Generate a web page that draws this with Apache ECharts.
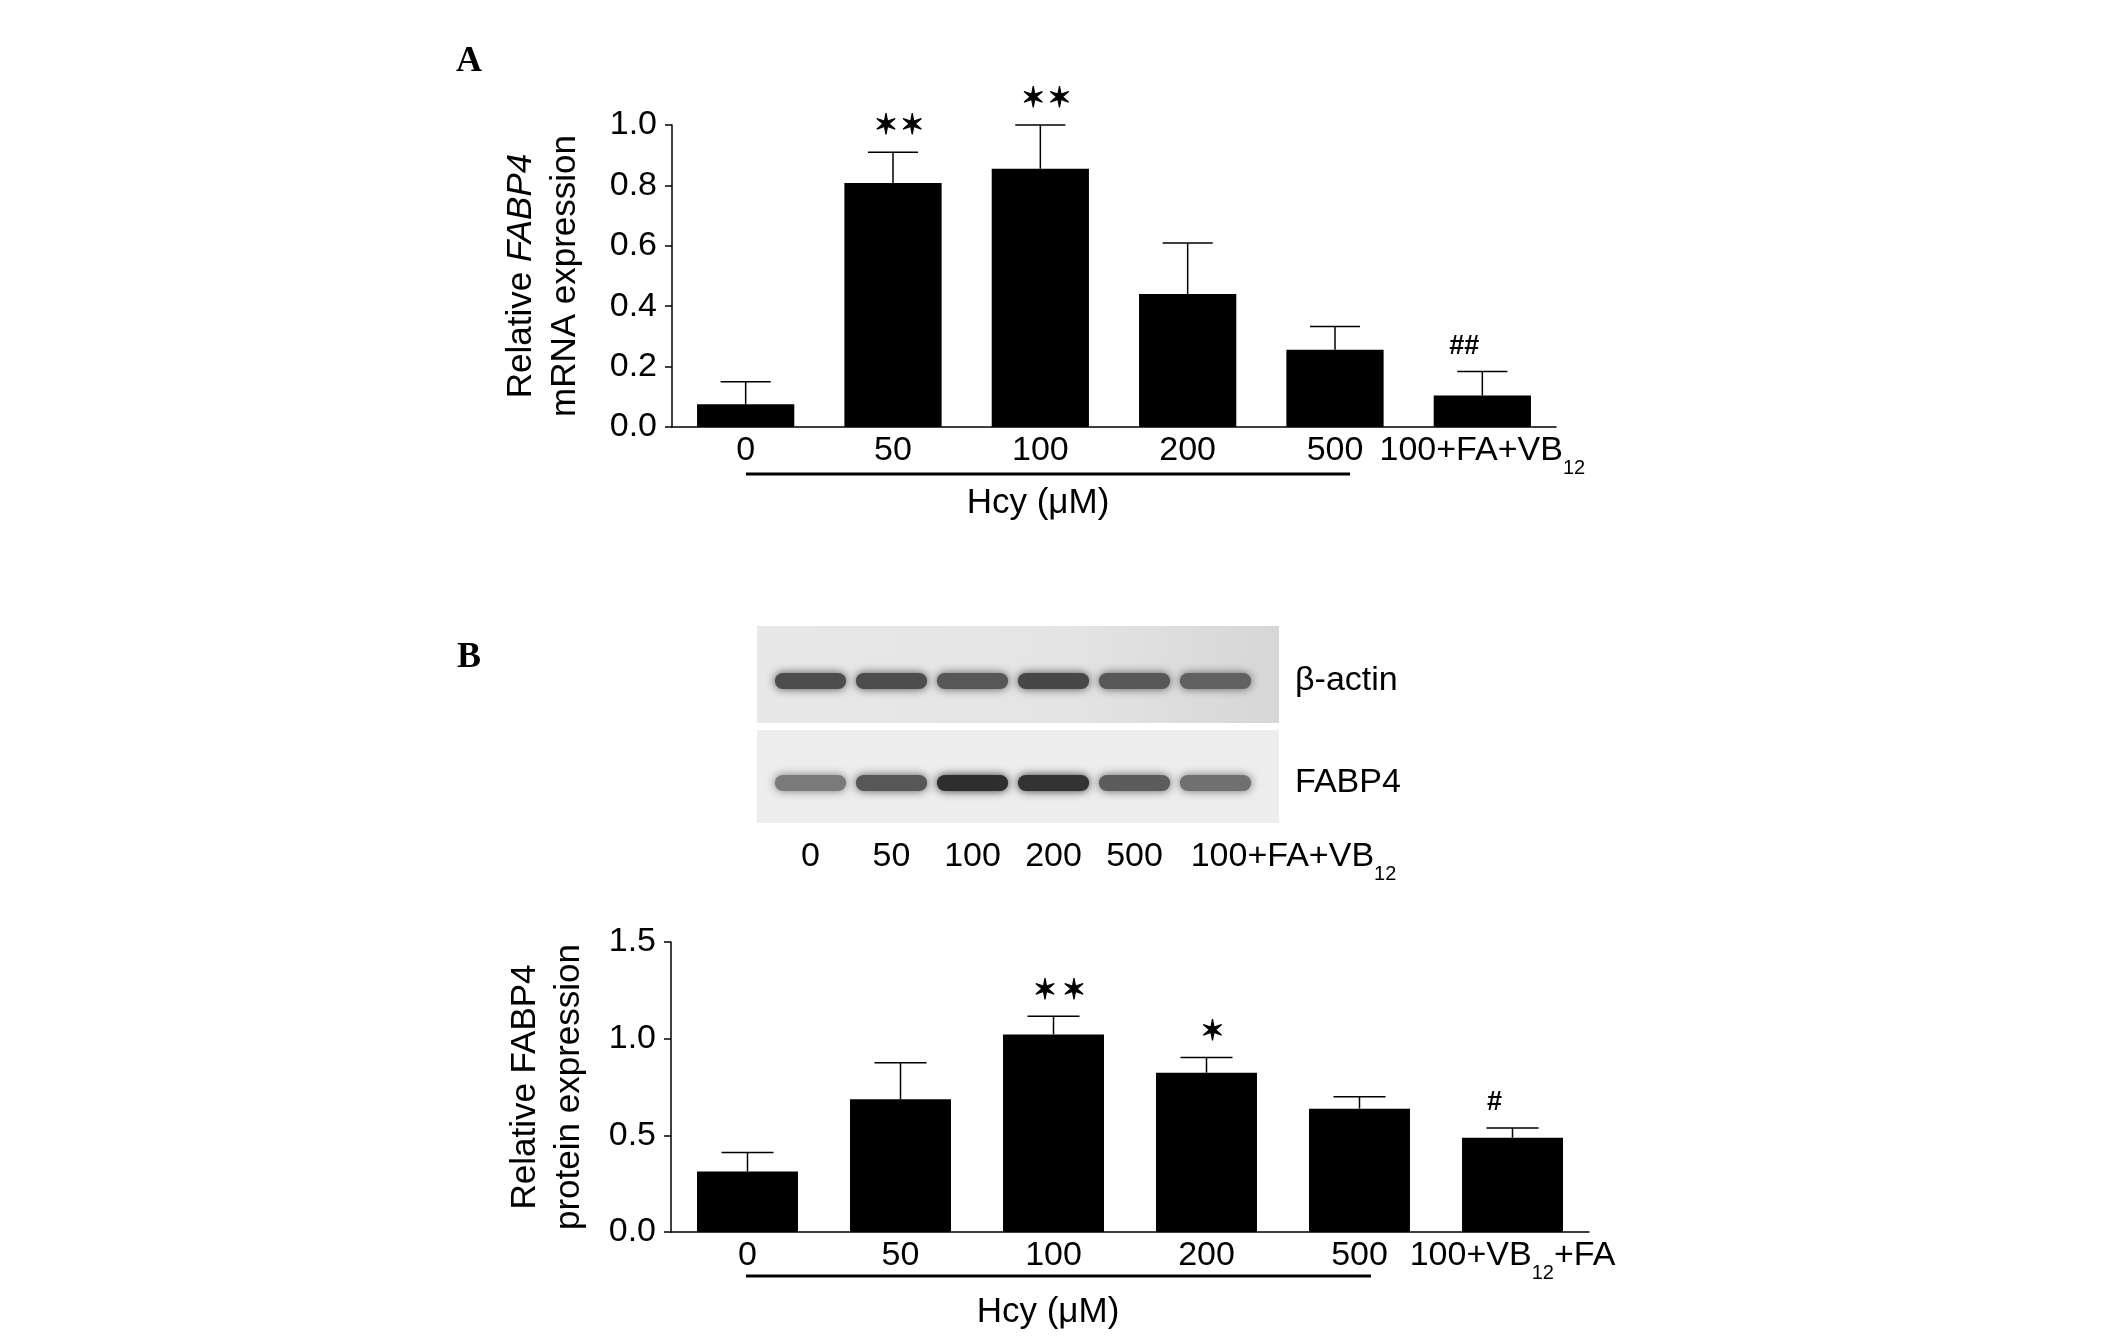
<!DOCTYPE html>
<html>
<head>
<meta charset="utf-8">
<script src="https://cdn.jsdelivr.net/npm/echarts@6/dist/echarts.min.js"></script>
<style>
  html, body { margin: 0; padding: 0; background: #fff; }
  #chart { width: 2126px; height: 1342px; }
</style>
</head>
<body>
<div id="chart"></div>
<script>
// A: relative FABP4 mRNA expression
const mrnaGroups = ['0', '50', '100', '200', '500', '100+FA+VB12'];
const mrnaMean = [0.075, 0.808, 0.855, 0.440, 0.256, 0.104];
const mrnaUpper = [0.150, 0.910, 1.000, 0.609, 0.333, 0.184];
const mrnaSig = ['', '✶\u200a✶', '✶\u200a✶', '', '', '##'];
const mrnaTicks = [0.0, 0.2, 0.4, 0.6, 0.8, 1.0];

// B: western blot lanes + band darkness (0..1)
const blotLanes = ['0', '50', '100', '200', '500', '100+FA+VB12'];
const blotRows = ['FABP4', 'β-actin'];
const actinBand = [0.70, 0.70, 0.66, 0.72, 0.66, 0.62];
const fabp4Band = [0.52, 0.66, 0.82, 0.80, 0.64, 0.56];

// B: relative FABP4 protein expression
const proteinGroups = ['0', '50', '100', '200', '500', '100+VB12+FA'];
const proteinMean = [0.313, 0.686, 1.022, 0.824, 0.638, 0.488];
const proteinUpper = [0.411, 0.875, 1.116, 0.903, 0.700, 0.538];
const proteinSig = ['', '', '✶\u2009✶', '✶', '', '#'];
const proteinTicks = [0.0, 0.5, 1.0, 1.5];

const FONT = '"Liberation Sans", Arial, sans-serif';

// subscript "12" via rich text
function subLabel(s) {
  const m = s.match(/^(.*VB)12(.*)$/);
  if (!m) return '{n|' + s + '}';
  return '{n|' + m[1] + '}{s|12}' + (m[2] ? '{n|' + m[2] + '}' : '');
}
const labelRich = {
  n: { fontSize: 34, fontFamily: FONT, color: '#000', lineHeight: 40, verticalAlign: 'top' },
  s: { fontSize: 20, fontFamily: FONT, color: '#000', verticalAlign: 'top', padding: [24, 0, 0, 0] },
  pad: { width: 156 }
};
const nameRich = {
  n: { fontSize: 35, fontFamily: FONT, color: '#000', lineHeight: 44 },
  i: { fontSize: 35, fontFamily: FONT, color: '#000', lineHeight: 44, fontStyle: 'italic' }
};

function catAxis(gridIndex, groups) {
  return {
    type: 'category', gridIndex, data: groups,
    axisLine: { lineStyle: { color: '#000', width: 1.5 } },
    axisTick: { show: false },
    axisLabel: { interval: 0, margin: 7, formatter: subLabel, rich: labelRich }
  };
}

function valAxis(gridIndex, ticks, title, gap) {
  return {
    type: 'value', gridIndex,
    min: ticks[0], max: ticks[ticks.length - 1], interval: ticks[1] - ticks[0],
    axisLine: { show: true, lineStyle: { color: '#000', width: 1.5 } },
    axisTick: { show: true, length: 7, lineStyle: { color: '#000', width: 1.5 } },
    splitLine: { show: false },
    axisLabel: { margin: 15, color: '#000', fontSize: 34, fontFamily: FONT, formatter: v => v.toFixed(1) },
    name: title, nameLocation: 'middle', nameGap: gap, nameRotate: 90,
    nameTextStyle: { color: '#000', fontSize: 35, fontFamily: FONT, lineHeight: 44, rich: nameRich }
  };
}

function barSeries(idx, mean) {
  return {
    type: 'bar', xAxisIndex: idx, yAxisIndex: idx, data: mean,
    barWidth: '66%', itemStyle: { color: '#000' }, z: 3
  };
}

// upward error bar + significance mark
function errSeries(idx, mean, upper, sig) {
  return {
    type: 'custom', xAxisIndex: idx, yAxisIndex: idx, z: 5,
    data: mean.map((m, i) => [i, m, upper[i]]),
    encode: { x: 0, y: [1, 2] },
    renderItem(params, api) {
      const i = api.value(0);
      const base = api.coord([i, api.value(1)]);
      const top = api.coord([i, api.value(2)]);
      const half = api.size([1, 0])[0] * 0.17;
      const ln = { stroke: '#000', lineWidth: 1.5 };
      const kids = [
        { type: 'line', shape: { x1: base[0], y1: base[1], x2: top[0], y2: top[1] }, style: ln },
        { type: 'line', shape: { x1: top[0] - half, y1: top[1], x2: top[0] + half, y2: top[1] }, style: ln }
      ];
      const mark = sig[params.dataIndex];
      if (mark) {
        const hash = mark.indexOf('#') >= 0;
        kids.push({
          type: 'text', x: top[0] + (hash ? -18 : 6), y: top[1] - 25,
          style: {
            text: mark, fill: '#000', align: 'center', verticalAlign: 'middle',
            fontSize: hash ? 27 : 28, fontWeight: 'bold',
            stroke: hash ? null : '#000', lineWidth: hash ? 0 : 1.2,
            fontFamily: hash ? FONT : '"DejaVu Sans", sans-serif'
          }
        });
      }
      return { type: 'group', children: kids };
    }
  };
}

const chart = echarts.init(document.getElementById('chart'));

const option = {
  backgroundColor: '#fff',
  animation: false,
  grid: [
    { left: 672, top: 125, width: 884, height: 302, containLabel: false, outerBoundsMode: 'none' },
    { left: 671, top: 942, width: 918, height: 290, containLabel: false, outerBoundsMode: 'none' },
    { left: 770, top: 630, width: 486, height: 204, containLabel: false, outerBoundsMode: 'none' }
  ],
  xAxis: [
    catAxis(0, mrnaGroups),
    catAxis(1, proteinGroups),
    {
      type: 'category', gridIndex: 2, data: blotLanes,
      axisLine: { show: false }, axisTick: { show: false },
      axisLabel: {
        interval: 0, margin: 6, rich: labelRich,
        formatter: (s, i) => (i === blotLanes.length - 1 ? '{pad|}' : '') + subLabel(s)
      }
    }
  ],
  yAxis: [
    valAxis(0, mrnaTicks, '{n|Relative }{i|FABP4}\n{n|mRNA expression}', 85),
    valAxis(1, proteinTicks, '{n|Relative FABP4}\n{n|protein expression}', 80),
    {
      type: 'category', gridIndex: 2, data: blotRows, position: 'right',
      axisLine: { show: false }, axisTick: { show: false }, splitLine: { show: false },
      axisLabel: { margin: 39, color: '#000', fontSize: 34, fontFamily: FONT }
    }
  ],
  series: [
    barSeries(0, mrnaMean),
    errSeries(0, mrnaMean, mrnaUpper, mrnaSig),
    barSeries(1, proteinMean),
    errSeries(1, proteinMean, proteinUpper, proteinSig),
    {
      type: 'custom', xAxisIndex: 2, yAxisIndex: 2, z: 5,
      data: actinBand.map((k, i) => [i, 1, k]).concat(fabp4Band.map((k, i) => [i, 0, k])),
      renderItem(params, api) {
        const c = api.coord([api.value(0), api.value(1)]);
        const rx = api.size([1, 0])[0] * 0.44;
        const g = Math.round(255 * (1 - api.value(2)));
        const col = 'rgb(' + g + ',' + g + ',' + g + ')';
        return {
          type: 'rect',
          shape: { x: c[0] - rx, y: c[1] - 8, width: rx * 2, height: 16, r: 8 },
          style: { fill: col, shadowBlur: 10, shadowColor: col }
        };
      }
    }
  ],
  graphic: [
    { type: 'text', x: 469, y: 62, z: 10, style: { text: 'A', fontSize: 36, fontWeight: 'bold', fontFamily: '"Liberation Serif", serif', fill: '#000', align: 'center', verticalAlign: 'middle' } },
    { type: 'text', x: 469, y: 658, z: 10, style: { text: 'B', fontSize: 36, fontWeight: 'bold', fontFamily: '"Liberation Serif", serif', fill: '#000', align: 'center', verticalAlign: 'middle' } },
    // blot membranes
    { type: 'rect', z: 0, shape: { x: 757, y: 626, width: 522, height: 97 },
      style: { fill: new echarts.graphic.LinearGradient(0, 0, 1, 0, [{ offset: 0, color: '#e8e8e8' }, { offset: 0.6, color: '#e4e4e4' }, { offset: 1, color: '#d6d6d6' }]) } },
    { type: 'rect', z: 0, shape: { x: 757, y: 730, width: 522, height: 93 }, style: { fill: '#ededed' } },
    // Hcy brackets
    { type: 'line', z: 10, shape: { x1: 746, y1: 474, x2: 1350, y2: 474 }, style: { stroke: '#000', lineWidth: 3 } },
    { type: 'text', x: 1038, y: 503, z: 10, style: { text: 'Hcy (μM)', fontSize: 35, fontFamily: FONT, fill: '#000', align: 'center', verticalAlign: 'middle' } },
    { type: 'line', z: 10, shape: { x1: 746, y1: 1276, x2: 1371, y2: 1276 }, style: { stroke: '#000', lineWidth: 3 } },
    { type: 'text', x: 1048, y: 1312, z: 10, style: { text: 'Hcy (μM)', fontSize: 35, fontFamily: FONT, fill: '#000', align: 'center', verticalAlign: 'middle' } }
  ]
};

chart.setOption(option);
window.addEventListener('resize', function () {
  chart.resize();
});
</script>
</body>
</html>
